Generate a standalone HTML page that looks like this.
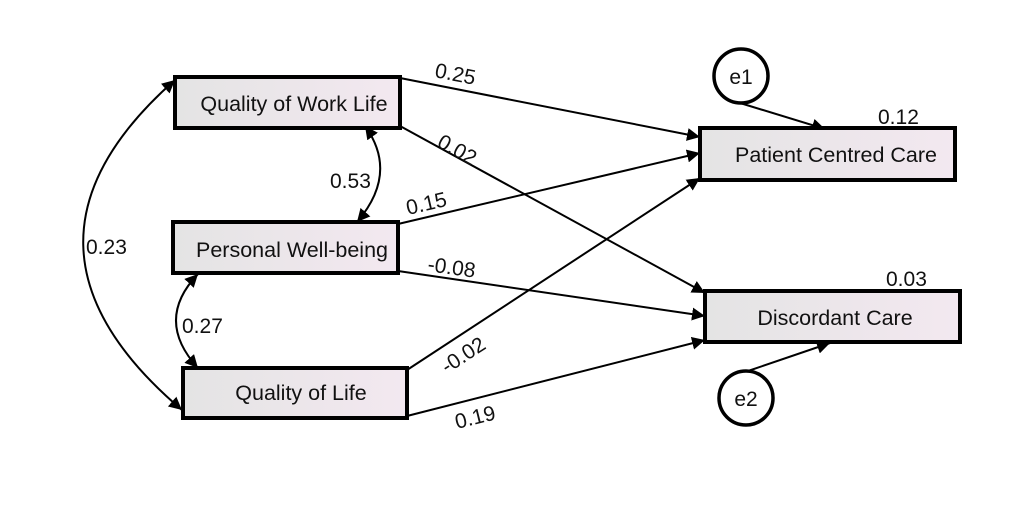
<!DOCTYPE html>
<html><head><style>
html,body{margin:0;padding:0;background:#fff;width:1024px;height:514px;overflow:hidden}
text{font-family:"Liberation Sans",sans-serif;fill:#111}
</style></head><body>
<svg width="1024" height="514" viewBox="0 0 1024 514" xmlns="http://www.w3.org/2000/svg">
<defs>
<linearGradient id="g" x1="0" x2="1" y1="0" y2="0"><stop offset="0" stop-color="#e4e4e4"/><stop offset="1" stop-color="#f3e8f0"/></linearGradient>
<marker id="a" viewBox="0 0 10 10" refX="10" refY="5" markerWidth="13" markerHeight="13" markerUnits="userSpaceOnUse" orient="auto-start-reverse"><path d="M0,0 L10,5 L0,10 z" fill="#000"/></marker>
</defs>
<g stroke="#000" stroke-width="2" fill="none">
<line x1="400" y1="78" x2="700" y2="137" marker-end="url(#a)"/>
<line x1="400" y1="126" x2="705" y2="293" marker-end="url(#a)"/>
<line x1="398" y1="224" x2="700" y2="153" marker-end="url(#a)"/>
<line x1="398" y1="271" x2="705" y2="316" marker-end="url(#a)"/>
<line x1="407" y1="370" x2="700" y2="178" marker-end="url(#a)"/>
<line x1="407" y1="416" x2="705" y2="340" marker-end="url(#a)"/>
<line x1="740" y1="103" x2="825" y2="129" marker-end="url(#a)"/>
<line x1="748" y1="371" x2="830" y2="343" marker-end="url(#a)"/>
<path d="M175,80 Q-12,245 182,410" marker-start="url(#a)" marker-end="url(#a)"/>
<path d="M365,126 Q399,173 357,222" marker-start="url(#a)" marker-end="url(#a)"/>
<path d="M198,274 Q154,320 198,368" marker-start="url(#a)" marker-end="url(#a)"/>
</g>
<g stroke="#000" stroke-width="4" fill="url(#g)">
<rect x="175" y="77" width="225" height="51"/>
<rect x="173" y="222" width="225" height="51"/>
<rect x="183" y="368" width="224" height="50"/>
<rect x="700" y="128" width="255" height="52"/>
<rect x="705" y="291" width="255" height="51"/>
</g>
<g stroke="#000" stroke-width="3.5" fill="#fff">
<circle cx="741" cy="76" r="27"/>
<circle cx="746" cy="398" r="27"/>
</g>
<g font-size="21">
<text x="294" y="111" text-anchor="middle" font-size="21.5">Quality of Work Life</text>
<text x="292" y="257" text-anchor="middle" font-size="21.5">Personal Well-being</text>
<text x="301" y="400" text-anchor="middle" font-size="21.5">Quality of Life</text>
<text x="836" y="162" text-anchor="middle" font-size="21.5">Patient Centred Care</text>
<text x="835" y="325" text-anchor="middle" font-size="21.5">Discordant Care</text>
<text x="741" y="84" text-anchor="middle">e1</text>
<text x="746" y="406" text-anchor="middle">e2</text>
<text x="878" y="124">0.12</text>
<text x="886" y="286">0.03</text>
<text x="330" y="188">0.53</text>
<text x="182" y="333">0.27</text>
<text x="86" y="254">0.23</text>
<text transform="translate(434,77) rotate(11)">0.25</text>
<text transform="translate(436,146) rotate(29)">0.02</text>
<text transform="translate(408,215) rotate(-13)">0.15</text>
<text transform="translate(427,271) rotate(8)">-0.08</text>
<text transform="translate(447,374) rotate(-33)">-0.02</text>
<text transform="translate(457,429) rotate(-14)">0.19</text>
</g>
</svg>
</body></html>
